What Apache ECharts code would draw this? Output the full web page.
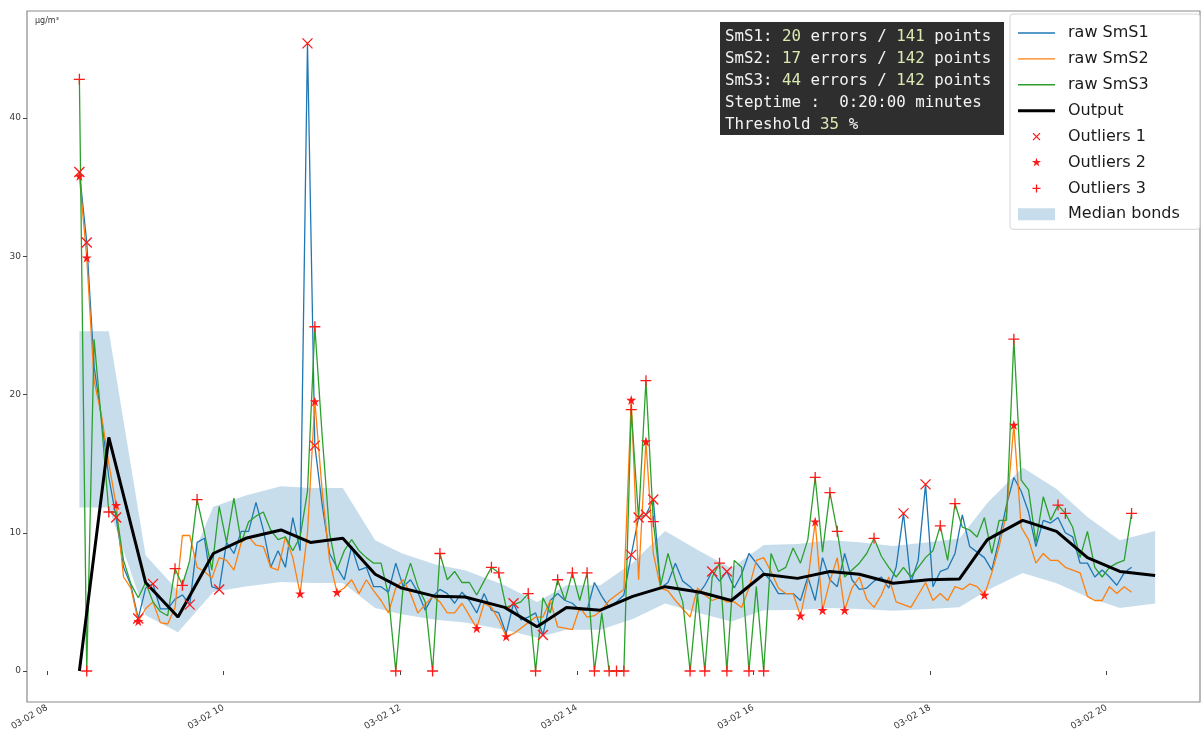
<!DOCTYPE html>
<html>
<head>
<meta charset="utf-8">
<script src="https://cdn.jsdelivr.net/npm/echarts@6.0.0/dist/echarts.min.js"></script>
<style>
  html, body { margin: 0; padding: 0; background: #ffffff; }
  #chart { width: 1204px; height: 738px; }
</style>
</head>
<body>
<div id="chart"></div>
<script>
// ---- data -----------------------------------------------------------------
const DAY = [2021, 2, 2];          // 2 March (month is 0-based)
const RAW_START = '08:22';         // first raw sample
const RAW_STEP_MIN = 5;            // raw sampling step, minutes

// raw sensor readings, µg/m³
const SMS1 = [
  36.1, 31.0, 22.0, 18.3, 14.0, 11.1, 7.5, 6.2, 3.8, 6.0, 6.3, 4.5,
  4.5, 5.2, 5.5, 4.8, 9.3, 9.6, 6.1, 5.9, 9.3, 8.5, 10.1, 10.1,
  12.2, 10.2, 7.5, 8.7, 7.5, 11.1, 8.7, 45.4, 16.3, 12.0, 8.5, 7.5,
  6.6, 9.0, 7.3, 7.5, 6.1, 6.1, 5.7, 7.8, 6.1, 6.6, 5.7, 4.4,
  5.4, 5.9, 5.6, 4.9, 5.7, 5.1, 4.2, 5.6, 4.4, 4.2, 2.7, 4.9,
  3.7, 3.9, 4.2, 2.6, 5.1, 5.6, 5.1, 4.9, 4.4, 4.4, 6.4, 5.4,
  4.6, 5.0, 5.5, 8.4, 11.1, 11.3, 12.4, 6.0, 6.4, 7.8, 6.5, 6.1,
  5.5, 6.2, 7.2, 6.5, 7.2, 6.0, 7.0, 8.5, 7.8, 7.1, 6.5, 5.6,
  5.6, 5.6, 5.1, 6.8, 5.1, 8.2, 6.6, 6.1, 8.5, 6.6, 5.9, 6.0,
  6.5, 6.8, 6.0, 7.5, 11.4, 6.4, 8.0, 13.5, 6.1, 7.2, 7.4, 8.5,
  11.3, 9.0, 8.6, 8.2, 7.3, 9.5, 12.0, 14.0, 13.0, 11.5, 9.0, 10.9,
  10.7, 11.1, 10.0, 9.7, 7.8, 7.8, 6.8, 7.3, 6.8, 6.2, 7.1, 7.5
];
const SMS2 = [
  35.8, 29.9, 21.0, 18.5, 15.0, 12.0, 6.8, 6.0, 3.6, 4.5, 5.0, 3.5,
  3.4, 4.6, 9.8, 9.8, 7.5, 7.2, 6.7, 8.2, 8.0, 7.3, 9.3, 9.7,
  9.1, 9.0, 7.5, 7.3, 9.7, 8.2, 5.6, 10.0, 19.5, 13.0, 8.0, 5.7,
  6.0, 6.6, 5.6, 6.6, 5.8, 5.1, 4.2, 6.0, 6.6, 5.6, 4.2, 4.8,
  5.4, 5.0, 4.2, 4.2, 4.9, 4.0, 3.1, 4.9, 4.6, 3.7, 2.5, 2.7,
  3.1, 3.5, 3.9, 3.9, 5.1, 3.2, 3.1, 3.0, 4.6, 3.9, 4.0, 4.4,
  5.1, 5.5, 5.9, 19.6, 6.6, 16.6, 8.5, 6.0, 5.8, 5.1, 4.5, 3.9,
  6.0, 5.5, 5.1, 5.3, 5.0, 5.0, 4.6, 6.0, 8.0, 8.2, 7.2, 6.0,
  5.6, 5.6, 4.0, 6.5, 10.8, 4.4, 6.5, 8.2, 4.4, 6.0, 6.8, 5.2,
  4.6, 5.5, 6.8, 5.0, 4.8, 4.6, 5.5, 6.4, 5.1, 5.6, 5.1, 6.1,
  5.9, 6.3, 6.1, 5.5, 7.1, 9.0, 11.4, 17.8, 10.4, 9.5, 7.8, 8.5,
  8.0, 8.0, 7.5, 7.3, 7.1, 5.4, 5.1, 5.1, 6.1, 5.6, 6.1, 5.7
];
const SMS3 = [
  42.8, 0, 24.0, 18.0, 11.5, 11.5, 8.0, 6.3, 5.3, 6.4, 5.0, 4.3,
  4.0, 7.4, 6.2, 8.0, 12.4, 10.0, 7.3, 11.9, 9.3, 12.5, 9.3, 10.8,
  11.2, 11.5, 10.2, 9.5, 9.7, 8.7, 9.7, 13.0, 24.9, 17.0, 10.0, 7.3,
  8.7, 9.5, 8.7, 8.2, 7.8, 7.8, 5.5, 0, 6.1, 7.8, 6.1, 5.0,
  0, 8.5, 6.6, 7.2, 6.4, 6.4, 5.5, 6.5, 7.5, 7.1, 4.6, 4.8,
  5.0, 5.6, 0, 5.3, 4.2, 6.6, 5.1, 7.1, 5.1, 7.1, 0, 4.2,
  0, 0, 0, 18.9, 11.0, 21.0, 10.8, 6.2, 8.5, 6.6, 5.0, 0,
  5.6, 0, 6.8, 7.8, 0, 8.0, 7.5, 0, 6.1, 0, 8.5, 7.2,
  7.5, 8.9, 7.8, 9.5, 14.0, 8.6, 12.9, 10.1, 6.8, 7.3, 7.8, 8.5,
  9.6, 8.3, 7.5, 6.8, 7.5, 6.8, 7.5, 8.2, 8.7, 10.5, 8.0, 12.1,
  10.4, 10.2, 9.7, 11.1, 8.5, 10.9, 10.9, 24.0, 13.8, 13.1, 9.3, 12.6,
  10.9, 12.0, 11.4, 10.4, 8.2, 10.1, 7.5, 6.8, 7.5, 7.8, 8.0, 11.4
];

// sample indices flagged as outliers for each sensor
const OUTLIERS1 = [0, 1, 5, 8, 10, 15, 19, 31, 32, 59, 63, 75, 76, 77, 78, 86, 88, 112, 115];
const OUTLIERS2 = [0, 1, 5, 8, 30, 32, 35, 54, 58, 75, 77, 98, 100, 101, 104, 123, 127];
const OUTLIERS3 = [0, 1, 4, 13, 14, 16, 32, 43, 48, 49, 56, 57, 61, 62, 65, 67, 69, 70, 72, 73, 74,
                   75, 77, 78, 83, 85, 87, 88, 91, 93, 100, 102, 103, 108, 117, 119, 127, 133, 134, 143];

// fused output and its median band
const OUTPUT_TIMES = ['08:22', '08:42', '09:07', '09:29', '09:53', '10:15', '10:39', '10:59', '11:21',
  '11:43', '12:01', '12:24', '12:44', '13:11', '13:33', '13:53', '14:16', '14:38', '15:00', '15:24',
  '15:45', '16:07', '16:30', '16:52', '17:12', '17:35', '17:59', '18:20', '18:39', '19:03', '19:26',
  '19:47', '20:09', '20:33'];
const OUTPUT_VALUES = [0, 16.9, 6.4, 3.9, 8.5, 9.6, 10.2, 9.3, 9.6, 7.0, 6.0, 5.4, 5.35, 4.6, 3.2,
  4.6, 4.4, 5.4, 6.1, 5.7, 5.1, 7.0, 6.7, 7.2, 7.0, 6.35, 6.6, 6.65, 9.5, 10.9, 10.1, 8.2, 7.2, 6.9];
const BAND_LOWER = [11.83, 11.83, 4.03, 2.80, 5.72, 6.11, 6.44, 6.37, 6.37, 4.55, 4.10, 3.71, 3.51,
  2.99, 2.41, 2.99, 2.99, 3.77, 4.88, 4.16, 3.58, 4.39, 4.42, 4.55, 4.49, 4.36, 4.49, 4.62, 5.85,
  7.09, 6.34, 5.36, 4.55, 4.88];
const BAND_UPPER = [24.57, 24.57, 8.37, 5.81, 11.88, 12.69, 13.37, 13.23, 13.23, 9.45, 8.51, 7.70,
  7.29, 6.21, 5.00, 6.21, 6.21, 7.83, 10.13, 8.64, 7.43, 9.11, 9.18, 9.45, 9.32, 9.05, 9.32, 9.59,
  12.15, 14.72, 13.16, 11.14, 9.45, 10.13];

// summary box
const SENSOR_NAMES = ['SmS1', 'SmS2', 'SmS3'];
const ERROR_COUNTS = [20, 17, 44];
const POINT_COUNTS = [141, 142, 142];
const STEPTIME = '0:20:00';
const THRESHOLD = 35;

// axes
const X_TICK_HOURS = [8, 10, 12, 14, 16, 18, 20];
const Y_TICKS = [0, 10, 20, 30, 40];
const X_RANGE = ['07:46:24', '21:03:30'];
const Y_RANGE = [-2.242, 47.74];

// ---- helpers --------------------------------------------------------------
function at(hms) {
  const p = hms.split(':').map(Number);
  return new Date(DAY[0], DAY[1], DAY[2], p[0], p[1], p[2] || 0).getTime();
}
const t0 = at(RAW_START);
const rawTimes = SMS1.map((_, i) => t0 + i * RAW_STEP_MIN * 60000);
const asPairs = vals => vals.map((v, i) => [rawTimes[i], v]);
const pick = (vals, idx) => idx.map(i => [rawTimes[i], vals[i]]);
const outTimes = OUTPUT_TIMES.map(at);
const xTickValues = X_TICK_HOURS.map(h => at(h + ':00'));
const bandRows = outTimes.map((t, i) => [t, BAND_LOWER[i], BAND_UPPER[i]]);

const COLORS = ['#1f77b4', '#ff7f0e', '#2ca02c'];
const BAND_COLOR = 'rgba(31,119,180,0.25)';
const MARK_RED = '#ff1a1a';

const SYM_X = 'path://M0,0L10,10M10,0L0,10';
const SYM_PLUS = 'path://M5,0L5,10M0,5L10,5';
const SYM_STAR = 'path://M50,0L61.2,34.5L97.6,34.5L68.2,55.9L79.4,90.5L50,69.1L20.6,90.5L31.8,55.9L2.4,34.5L38.8,34.5Z';
// legend icons, padded with empty margin so the marks keep their size
const LEG_LINE = 'path://M0,0M37,12M0,5.3L37,5.3L37,6.7L0,6.7Z';
const LEG_THICK = 'path://M0,0M37,12M0,4.5L37,4.5L37,7.5L0,7.5Z';
const LEG_X = 'path://M0,0M12,12M2.5,2.5L9.5,9.5M9.5,2.5L2.5,9.5';
const LEG_PLUS = 'path://M0,0M12,12M6,2L6,10M2,6L10,6';
const LEG_STAR = 'path://M-12,-12M112,112M50,0L61.2,34.5L97.6,34.5L68.2,55.9L79.4,90.5L50,69.1L20.6,90.5L31.8,55.9L2.4,34.5L38.8,34.5Z';

// ---- series ---------------------------------------------------------------
const rawSeries = [SMS1, SMS2, SMS3].map((vals, k) => ({
  name: 'raw ' + SENSOR_NAMES[k],
  type: 'line',
  data: asPairs(vals),
  symbol: 'none',
  color: COLORS[k],
  itemStyle: { color: COLORS[k], borderWidth: 0 },
  lineStyle: { width: 1.3, color: COLORS[k] },
  emphasis: { disabled: true },
  z: 3
}));

function outlierSeries(name, vals, idx, symbol, size, filled) {
  return {
    name: name,
    type: 'scatter',
    data: pick(vals, idx),
    symbol: symbol,
    symbolSize: size,
    color: MARK_RED,
    itemStyle: filled
      ? { color: MARK_RED, opacity: 1 }
      : { color: 'rgba(0,0,0,0)', borderColor: MARK_RED, borderWidth: 1.3, opacity: 1 },
    emphasis: { disabled: true },
    z: 6
  };
}

// the band is one polygon: upper edge left-to-right, lower edge back
function renderBand(params, api) {
  if (params.dataIndex !== 0) return null;
  const upper = bandRows.map(r => api.coord([r[0], r[2]]));
  const lower = bandRows.map(r => api.coord([r[0], r[1]])).reverse();
  return {
    type: 'polygon',
    shape: { points: upper.concat(lower) },
    style: { fill: BAND_COLOR }
  };
}

const series = [
  {
    name: 'Median bonds', type: 'custom', renderItem: renderBand,
    data: bandRows, encode: { x: 0, y: [1, 2] },
    color: BAND_COLOR, itemStyle: { color: BAND_COLOR },
    silent: true, z: 1
  },
  ...rawSeries,
  {
    name: 'Output', type: 'line', symbol: 'none',
    data: outTimes.map((t, i) => [t, OUTPUT_VALUES[i]]),
    color: '#000000',
    itemStyle: { color: '#000000', borderWidth: 0 },
    lineStyle: { width: 3, color: '#000000' },
    emphasis: { disabled: true }, z: 4
  },
  outlierSeries('Outliers 1', SMS1, OUTLIERS1, SYM_X, 10, false),
  outlierSeries('Outliers 2', SMS2, OUTLIERS2, SYM_STAR, 10, true),
  outlierSeries('Outliers 3', SMS3, OUTLIERS3, SYM_PLUS, 11, false)
];

// ---- summary box text -----------------------------------------------------
const MONO = '"DejaVu Sans Mono", "Liberation Mono", monospace';
const richStyle = {
  w: { fill: '#f3f3f3', fontFamily: MONO, fontSize: 15.8 },
  n: { fill: '#dbe8b2', fontFamily: MONO, fontSize: 15.8 }
};
const infoLines = SENSOR_NAMES.map((s, k) =>
  `{w|${s}: }{n|${ERROR_COUNTS[k]}}{w| errors / }{n|${POINT_COUNTS[k]}}{w| points}`);
infoLines.push(`{w|Steptime :  ${STEPTIME} minutes}`);
infoLines.push(`{w|Threshold }{n|${THRESHOLD}}{w| %}`);

const infoBox = {
  type: 'group', left: 720, top: 22, silent: true,
  children: [
    { type: 'rect', shape: { x: 0, y: 0, width: 284, height: 113 }, style: { fill: '#2e2e2e' } }
  ].concat(infoLines.map((txt, k) => ({
    type: 'text', x: 5, y: 14.5 + 22 * k,
    style: {
      text: txt, rich: richStyle, fill: '#f3f3f3',
      fontFamily: MONO, fontSize: 15.8, verticalAlign: 'middle', align: 'left'
    }
  })))
};

// ---- chart ----------------------------------------------------------------
const chart = echarts.init(document.getElementById('chart'), null, { renderer: 'canvas' });
chart.setOption({
  animation: false,
  backgroundColor: '#ffffff',
  grid: {
    left: 27, right: 4, top: 11, bottom: 36,
    show: true, borderColor: '#8a8a8a', borderWidth: 1.2, backgroundColor: 'transparent'
  },
  xAxis: {
    type: 'value',
    min: at(X_RANGE[0]), max: at(X_RANGE[1]),
    axisLine: { show: false },
    splitLine: { show: false },
    axisTick: {
      show: true, inside: false, length: 4, lineStyle: { color: '#444', width: 1 },
      customValues: xTickValues
    },
    axisLabel: {
      customValues: xTickValues,
      rotate: 30, margin: 5, fontSize: 9, color: '#3a3a3a',
      fontFamily: 'DejaVu Sans',
      formatter: v => '03-02 ' + String(new Date(v).getHours()).padStart(2, '0')
    }
  },
  yAxis: {
    type: 'value',
    min: Y_RANGE[0], max: Y_RANGE[1],
    axisLine: { show: false },
    splitLine: { show: false },
    axisTick: {
      show: true, inside: false, length: 4, lineStyle: { color: '#444', width: 1 },
      customValues: Y_TICKS
    },
    axisLabel: {
      customValues: Y_TICKS, margin: 6, fontSize: 9, color: '#3a3a3a', fontFamily: 'DejaVu Sans'
    }
  },
  legend: {
    orient: 'vertical', left: 1010, top: 14,
    padding: [11, 20, 7, 8],
    itemWidth: 37, itemHeight: 12, itemGap: 9.9,
    backgroundColor: '#ffffff', borderColor: '#d4d4d4', borderWidth: 1, borderRadius: 3,
    selectedMode: false,
    itemStyle: { borderWidth: 0 },
    textStyle: { fontFamily: 'DejaVu Sans', fontSize: 16, color: '#1a1a1a', padding: [0, 0, 0, 8] },
    data: [
      { name: 'raw SmS1', icon: LEG_LINE },
      { name: 'raw SmS2', icon: LEG_LINE },
      { name: 'raw SmS3', icon: LEG_LINE },
      { name: 'Output', icon: LEG_THICK },
      { name: 'Outliers 1', icon: LEG_X, itemStyle: { color: 'rgba(0,0,0,0)', borderColor: MARK_RED, borderWidth: 1.3 } },
      { name: 'Outliers 2', icon: LEG_STAR, itemStyle: { color: MARK_RED } },
      { name: 'Outliers 3', icon: LEG_PLUS, itemStyle: { color: 'rgba(0,0,0,0)', borderColor: MARK_RED, borderWidth: 1.3 } },
      { name: 'Median bonds', icon: 'rect', itemStyle: { color: BAND_COLOR } }
    ]
  },
  graphic: [
    infoBox,
    {
      type: 'text', left: 35, top: 17, silent: true,
      style: { text: 'µg/m³', fontSize: 8, fill: '#333333', fontFamily: 'DejaVu Sans' }
    }
  ],
  series: series
});
</script>
</body>
</html>
